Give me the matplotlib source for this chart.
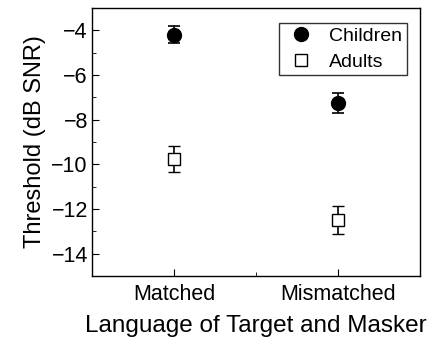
import matplotlib
matplotlib.use("Agg")
import matplotlib.pyplot as plt
from matplotlib.ticker import MultipleLocator, FixedLocator
from matplotlib.lines import Line2D

plt.rcParams['font.family'] = ['Liberation Sans', 'DejaVu Sans']

categories = ["Matched", "Mismatched"]
children = [-4.2, -7.25]
children_err = [0.38, 0.46]
adults = [-9.75, -12.5]
adults_err = [0.58, 0.62]

x = [1, 2]

fig = plt.figure(figsize=(4.38, 3.37), dpi=100)
ax = fig.add_axes([92/438, 1 - 276/337, (420-92)/438, (276-8)/337])

ax.errorbar(x, children, yerr=children_err, fmt='o', color='black', ms=10,
            capsize=4, elinewidth=1.2, capthick=1.2)
ax.errorbar(x, adults, yerr=adults_err, fmt='s', color='black', mfc='white', ms=8,
            mew=1.0, capsize=4, elinewidth=1.2, capthick=1.2)

ax.set_xlim(0.5, 2.5)
ax.set_ylim(-15, -3)
ax.set_xticks(x)
ax.set_xticklabels(categories)
ax.xaxis.set_minor_locator(FixedLocator([1.5]))
ax.set_yticks([-14, -12, -10, -8, -6, -4])
ax.yaxis.set_minor_locator(MultipleLocator(1))
ax.tick_params(which='both', direction='in', labelsize=15.5, pad=3)
ax.tick_params(axis='x', which='both', pad=6)
ax.tick_params(which='major', length=5)
ax.tick_params(which='minor', length=3)
ax.set_ylabel("Threshold (dB SNR)", fontsize=17, labelpad=4)
ax.set_xlabel("Language of Target and Masker", fontsize=17.5, labelpad=7)

handles = [
    Line2D([], [], marker='o', ls='none', color='black', ms=10),
    Line2D([], [], marker='s', ls='none', color='black', mfc='white', ms=8, mew=1.0),
]
leg = ax.legend(handles, ["Children", "Adults"], loc='upper right', fontsize=14,
                frameon=True, fancybox=False, edgecolor='black',
                handletextpad=0.6, borderpad=0.25, labelspacing=0.4,
                handlelength=1.7, borderaxespad=0, bbox_to_anchor=(0.96, 0.945))
leg.get_frame().set_linewidth(1.0)

for s in ax.spines.values():
    s.set_linewidth(1.0)

fig.savefig("out.png", dpi=100)
